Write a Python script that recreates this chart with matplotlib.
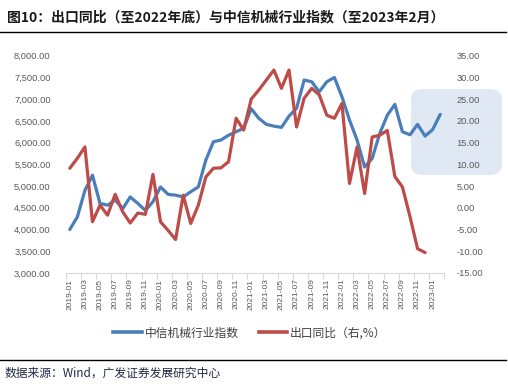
import matplotlib
matplotlib.use("Agg")
import matplotlib.pyplot as plt
from matplotlib.patches import FancyBboxPatch
from matplotlib.lines import Line2D
from matplotlib.ticker import FuncFormatter, MultipleLocator

plt.rcParams['font.family'] = ['Liberation Sans', 'Noto Sans CJK SC', 'DejaVu Sans']

# ---------------- data ----------------
months = [f"{y}-{m:02d}" for y in range(2019, 2024) for m in range(1, 13)][:50]  # 2019-01 .. 2023-02

machinery_index = [
    4000, 4290, 4900, 5250, 4600, 4560, 4680, 4480, 4750, 4600,
    4440, 4640, 4980, 4810, 4790, 4750, 4870, 4980, 5600, 6020,
    6060, 6170, 6250, 6330, 6780, 6560, 6420, 6380, 6350, 6610,
    6790, 7440, 7400, 7170, 7400, 7500, 7055, 6520, 6060, 5440,
    5635, 6210, 6630, 6880, 6250, 6180, 6420, 6150, 6300, 6650,
]

export_yoy = [
    9.1, 11.4, 14.0, -3.2, 0.6, -1.7, 3.1, -0.9, -3.5, -1.2,
    -1.5, 7.7, -3.2, -5.2, -7.3, 2.9, -3.6, 0.6, 7.1, 9.1,
    9.2, 10.6, 20.6, 17.9, 25.0, 27.1, 29.4, 31.7, 27.5, 31.7,
    18.6, 25.2, 27.5, 26.0, 21.3, 20.6, 24.0, 5.6, 14.0, 3.3,
    16.3, 16.7, 17.8, 7.2, 4.8, -2.0, -9.4, -10.3,
]

title = "图10：出口同比（至2022年底）与中信机械行业指数（至2023年2月）"
legend_labels = ["中信机械行业指数", "出口同比（右,%）"]
source = "数据来源：Wind，广发证券发展研究中心"

blue = "#4A7EBB"
red = "#BE4B48"

# ---------------- figure ----------------
W, H = 508, 390
fig = plt.figure(figsize=(W / 100, H / 100), dpi=100)

def fx(px):
    return px / W

def fy(py):
    return 1 - py / H

ax_l, ax_r_px, ax_t, ax_b = 66, 444, 55.7, 273
ax = fig.add_axes([fx(ax_l), fy(ax_b), fx(ax_r_px - ax_l), (ax_b - ax_t) / H])
ax2 = ax.twinx()
for a in (ax, ax2):
    a.patch.set_visible(False)
    for s in a.spines.values():
        s.set_visible(False)

# highlight box (behind everything)
box = FancyBboxPatch((fx(411), fy(175)), fx(502 - 411), (175 - 89) / H,
                     boxstyle="round,pad=0,rounding_size=0.025",
                     transform=fig.transFigure, facecolor="#E0E8F3",
                     edgecolor="none", zorder=-5)
fig.patches.append(box)

x_idx = list(range(len(months)))
ax.plot(x_idx, machinery_index, color=blue, lw=2.3, solid_joinstyle="round",
        solid_capstyle="round", zorder=3)
ax2.plot(x_idx[:len(export_yoy)], export_yoy, color=red, lw=2.3,
         solid_joinstyle="round", solid_capstyle="round", zorder=3)

ax.set_xlim(-0.5, len(months) - 0.5)
ax.set_ylim(3000, 8000)
ax2.set_ylim(-15, 35)

ax.yaxis.set_major_locator(MultipleLocator(500))
ax.yaxis.set_major_formatter(FuncFormatter(lambda v, p: f"{v:,.2f}"))
ax2.yaxis.set_major_locator(MultipleLocator(5))
ax2.yaxis.set_major_formatter(FuncFormatter(lambda v, p: f"{v:.2f}"))

ax.tick_params(axis="y", length=0, pad=11, labelsize=6.7, labelcolor="#595959")
ax2.tick_params(axis="y", length=0, pad=9, labelsize=6.7, labelcolor="#595959")

# x axis: tick marks between categories, labels every 2 months
ax.spines["bottom"].set_visible(True)
ax.spines["bottom"].set_color("#D9D9D9")
ax.spines["bottom"].set_linewidth(0.8)
ax.set_xticks([i - 0.5 for i in range(0, len(months) + 1, 2)], minor=False)
ax.set_xticklabels([])
ax.tick_params(axis="x", which="major", length=4, color="#D9D9D9", width=0.8)
ax.set_xticks(x_idx[::2], minor=True)
ax.set_xticklabels(months[::2], minor=True, rotation=90, fontsize=6,
                   color="#595959")
ax.tick_params(axis="x", which="minor", length=0, pad=4)

# legend
handles = [Line2D([], [], color=blue, lw=2.6), Line2D([], [], color=red, lw=2.6)]
fig.legend(handles, legend_labels, loc="center", bbox_to_anchor=(fx(250), fy(333)),
           ncol=2, frameon=False, fontsize=8.5, handlelength=2.4,
           handletextpad=0.25, columnspacing=1.7, labelcolor="#404040",
           prop={"family": ["Noto Sans CJK SC", "DejaVu Sans"], "size": 8.5})

# title and rules
fig.text(fx(7), fy(17), title, fontsize=10, fontweight="bold", color="#1A1A1A",
         va="center", ha="left", family=["Noto Sans CJK SC", "DejaVu Sans"])
fig.add_artist(Line2D([0, fx(506)], [fy(32), fy(32)], color="black", lw=1.0,
                      transform=fig.transFigure))
fig.add_artist(Line2D([0, fx(506)], [fy(360), fy(360)], color="black", lw=1.0,
                      transform=fig.transFigure))
fig.text(fx(5), fy(373), source, fontsize=8.5, color="#1F2A44", va="center",
         ha="left", family=["Noto Sans CJK SC", "DejaVu Sans"])

fig.savefig("out.png", dpi=100, facecolor="white")
